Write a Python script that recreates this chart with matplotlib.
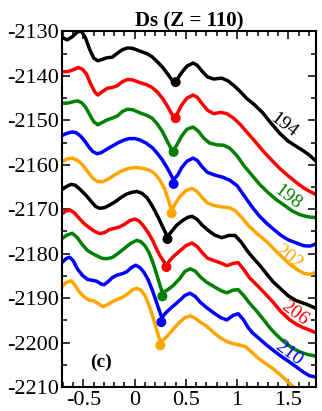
import numpy as np
import matplotlib
matplotlib.use('Agg')
import matplotlib.pyplot as plt
from matplotlib.ticker import MultipleLocator, FuncFormatter

plt.rcParams['font.family'] = ['Liberation Serif', 'DejaVu Serif']
plt.rcParams['axes.unicode_minus'] = False

# Neutron numbers and colours of the ten curves
N_values = [194, 196, 198, 200, 202, 204, 206, 208, 210, 212]
colors = ['black', 'red', 'green', 'blue', 'orange',
          'black', 'red', 'green', 'blue', 'orange']

# Binding energy curves (x = deformation, y = energy)
x_194 = [-0.71, -0.66, -0.61, -0.56, -0.52, -0.48, -0.44, -0.40, -0.36, -0.32, -0.27, -0.22,
         -0.17, -0.12, -0.07, -0.02, 0.05, 0.12, 0.17, 0.22, 0.27, 0.32, 0.36, 0.39, 0.42,
         0.46, 0.51, 0.57, 0.61, 0.66, 0.71, 0.77, 0.85, 0.91, 0.97, 1.03, 1.09, 1.17, 1.25,
         1.33, 1.42, 1.50, 1.58, 1.65, 1.71, 1.78]
e_194 = [-2131.3, -2131.9, -2131.2, -2130.1, -2129.9, -2131.5, -2134.0, -2136.0, -2136.6, -2136.3,
         -2135.9, -2135.8, -2134.9, -2134.1, -2133.7, -2133.8, -2134.4, -2135.0, -2135.7, -2136.8,
         -2138.0, -2139.5, -2140.8, -2141.4, -2140.6, -2139.2, -2137.8, -2137.1, -2137.6, -2139.0,
         -2140.2, -2140.7, -2140.5, -2141.1, -2142.2, -2143.5, -2145.0, -2146.5, -2148.3, -2150.6,
         -2153.0, -2154.7, -2155.9, -2156.9, -2157.9, -2159.4]

x_196 = [-0.71, -0.65, -0.60, -0.55, -0.51, -0.47, -0.43, -0.39, -0.36, -0.32, -0.27, -0.22,
         -0.17, -0.12, -0.07, -0.02, 0.05, 0.12, 0.17, 0.22, 0.27, 0.32, 0.36, 0.39, 0.42,
         0.46, 0.51, 0.57, 0.61, 0.66, 0.71, 0.77, 0.84, 0.90, 0.96, 1.03, 1.09, 1.17, 1.25,
         1.33, 1.42, 1.50, 1.58, 1.65, 1.71, 1.78]
e_196 = [-2139.1, -2139.0, -2138.6, -2138.1, -2138.5, -2139.6, -2141.8, -2143.6, -2144.3, -2143.6,
         -2142.8, -2142.6, -2142.2, -2141.3, -2140.8, -2140.9, -2141.5, -2142.0, -2142.6, -2143.6,
         -2145.0, -2146.8, -2148.5, -2149.5, -2148.3, -2146.5, -2145.0, -2144.3, -2144.8, -2146.3,
         -2147.7, -2148.5, -2148.2, -2148.5, -2149.4, -2150.9, -2152.5, -2154.6, -2156.8, -2158.8,
         -2160.9, -2162.5, -2164.0, -2165.2, -2166.0, -2166.8]

x_198 = [-0.71, -0.65, -0.60, -0.56, -0.52, -0.48, -0.44, -0.40, -0.36, -0.32, -0.27, -0.22,
         -0.17, -0.12, -0.07, -0.02, 0.05, 0.12, 0.17, 0.22, 0.27, 0.32, 0.37, 0.41, 0.46,
         0.51, 0.57, 0.62, 0.67, 0.73, 0.80, 0.87, 0.93, 1.00, 1.07, 1.15, 1.22, 1.30, 1.38,
         1.46, 1.54, 1.61, 1.69, 1.78]
e_198 = [-2146.2, -2146.1, -2145.8, -2145.6, -2146.0, -2147.0, -2148.7, -2150.3, -2151.0, -2150.5,
         -2149.9, -2149.5, -2149.0, -2148.0, -2147.5, -2147.6, -2148.3, -2148.9, -2149.5, -2150.8,
         -2152.5, -2154.8, -2157.0, -2155.6, -2153.5, -2152.0, -2151.5, -2152.4, -2153.9, -2155.1,
         -2155.5, -2155.6, -2156.3, -2158.0, -2160.3, -2162.5, -2164.4, -2166.2, -2167.8, -2169.1,
         -2170.4, -2171.2, -2171.7, -2171.9]

x_200 = [-0.71, -0.66, -0.61, -0.57, -0.53, -0.49, -0.45, -0.41, -0.37, -0.33, -0.28, -0.22,
         -0.16, -0.10, -0.05, 0.0, 0.05, 0.11, 0.175, 0.22, 0.27, 0.32, 0.38, 0.42, 0.46,
         0.51, 0.57, 0.61, 0.66, 0.71, 0.78, 0.86, 0.93, 1.00, 1.07, 1.15, 1.22, 1.29, 1.36,
         1.43, 1.50, 1.58, 1.65, 1.71, 1.75, 1.78]
e_200 = [-2153.4, -2152.9, -2152.6, -2152.8, -2153.5, -2154.6, -2155.9, -2157.0, -2157.5, -2157.3,
         -2156.6, -2155.8, -2155.0, -2154.4, -2154.1, -2154.1, -2154.4, -2155.1, -2156.2, -2157.4,
         -2158.9, -2160.8, -2163.4, -2162.3, -2160.6, -2159.2, -2158.5, -2159.0, -2160.5, -2161.7,
         -2162.3, -2162.8, -2163.5, -2164.7, -2167.0, -2169.6, -2171.6, -2173.2, -2174.6, -2175.9,
         -2176.9, -2177.6, -2178.2, -2178.3, -2178.0, -2177.6]

x_202 = [-0.71, -0.66, -0.61, -0.56, -0.51, -0.46, -0.41, -0.36, -0.31, -0.25, -0.19, -0.13,
         -0.07, 0.0, 0.05, 0.10, 0.15, 0.20, 0.245, 0.29, 0.33, 0.36, 0.40, 0.44, 0.50, 0.56,
         0.61, 0.66, 0.71, 0.78, 0.86, 0.93, 0.98, 1.05, 1.12, 1.20, 1.29, 1.37, 1.45, 1.52,
         1.58, 1.65, 1.71, 1.75, 1.78]
e_202 = [-2159.3, -2158.7, -2158.5, -2159.0, -2160.0, -2161.5, -2163.0, -2163.8, -2163.8, -2163.1,
         -2162.2, -2161.4, -2160.9, -2160.6, -2160.7, -2160.9, -2161.3, -2162.1, -2163.4, -2165.3,
         -2168.0, -2170.3, -2168.6, -2167.2, -2165.8, -2165.3, -2166.0, -2167.4, -2168.6, -2169.2,
         -2169.5, -2169.7, -2170.3, -2172.0, -2173.9, -2175.6, -2177.3, -2179.2, -2181.0, -2182.5,
         -2183.5, -2184.4, -2184.7, -2184.4, -2183.9]

x_204 = [-0.71, -0.66, -0.62, -0.58, -0.53, -0.47, -0.42, -0.38, -0.34, -0.29, -0.24, -0.19,
         -0.13, -0.08, -0.03, 0.02, 0.07, 0.12, 0.17, 0.225, 0.27, 0.32, 0.36, 0.41, 0.47,
         0.52, 0.56, 0.61, 0.66, 0.72, 0.78, 0.85, 0.92, 0.98, 1.04, 1.10, 1.15, 1.22, 1.29,
         1.35, 1.42, 1.50, 1.58, 1.68, 1.78]
e_204 = [-2165.6, -2164.8, -2164.4, -2164.6, -2165.6, -2167.0, -2168.4, -2169.4, -2169.8, -2169.6,
         -2169.0, -2168.3, -2167.3, -2166.6, -2166.2, -2166.0, -2166.4, -2167.4, -2169.2, -2171.6,
         -2173.8, -2176.2, -2175.0, -2173.6, -2172.5, -2171.8, -2171.6, -2172.3, -2173.6, -2174.8,
         -2175.8, -2176.4, -2175.9, -2175.9, -2177.4, -2179.4, -2180.8, -2182.6, -2184.6, -2186.3,
         -2187.8, -2189.5, -2190.6, -2191.4, -2192.4]

x_206 = [-0.71, -0.67, -0.63, -0.59, -0.54, -0.49, -0.44, -0.39, -0.34, -0.29, -0.25, -0.20,
         -0.15, -0.10, -0.05, 0.0, 0.04, 0.08, 0.13, 0.175, 0.21, 0.245, 0.28, 0.31, 0.34,
         0.38, 0.44, 0.50, 0.56, 0.61, 0.66, 0.71, 0.78, 0.84, 0.90, 0.96, 1.01, 1.06, 1.12,
         1.19, 1.27, 1.35, 1.43, 1.515, 1.58, 1.64, 1.71, 1.78]
e_206 = [-2171.0, -2170.4, -2170.2, -2170.8, -2172.1, -2173.3, -2174.2, -2175.0, -2175.5, -2175.2,
         -2174.6, -2174.3, -2174.0, -2173.4, -2172.6, -2172.2, -2172.6, -2173.6, -2175.2, -2177.0,
         -2178.8, -2180.4, -2181.6, -2182.6, -2181.6, -2180.6, -2179.4, -2178.2, -2177.6, -2178.4,
         -2179.8, -2181.0, -2181.6, -2182.1, -2182.7, -2182.2, -2182.0, -2183.4, -2185.4, -2187.0,
         -2188.9, -2190.9, -2193.1, -2194.9, -2195.9, -2196.6, -2197.2, -2197.9]

x_208 = [-0.71, -0.66, -0.61, -0.56, -0.51, -0.46, -0.41, -0.36, -0.31, -0.26, -0.215, -0.16,
         -0.10, -0.04, 0.02, 0.06, 0.10, 0.14, 0.175, 0.21, 0.24, 0.27, 0.31, 0.37, 0.44, 0.49,
         0.54, 0.59, 0.64, 0.70, 0.78, 0.85, 0.90, 0.96, 1.01, 1.06, 1.12, 1.19, 1.26, 1.32,
         1.39, 1.46, 1.53, 1.61, 1.69, 1.78]
e_208 = [-2176.6, -2175.8, -2175.4, -2176.4, -2178.0, -2179.3, -2180.0, -2180.6, -2181.1, -2181.1,
         -2180.8, -2179.9, -2178.8, -2177.7, -2177.0, -2177.3, -2178.2, -2179.8, -2181.8, -2184.3,
         -2186.6, -2188.8, -2188.3, -2187.3, -2185.6, -2184.0, -2183.4, -2183.9, -2185.2, -2186.4,
         -2187.5, -2188.4, -2188.8, -2188.2, -2188.1, -2189.3, -2191.1, -2192.9, -2194.9, -2196.7,
         -2198.4, -2199.9, -2201.1, -2202.1, -2202.7, -2203.1]

x_210 = [-0.71, -0.67, -0.635, -0.60, -0.56, -0.51, -0.46, -0.41, -0.37, -0.33, -0.30, -0.26,
         -0.22, -0.17, -0.12, -0.08, -0.03, 0.01, 0.05, 0.09, 0.13, 0.165, 0.195, 0.23, 0.265,
         0.30, 0.34, 0.39, 0.44, 0.49, 0.54, 0.59, 0.64, 0.70, 0.77, 0.84, 0.90, 0.96, 1.01,
         1.06, 1.11, 1.15, 1.22, 1.29, 1.35, 1.43, 1.50, 1.58, 1.65, 1.71, 1.78]
e_210 = [-2182.0, -2181.1, -2180.8, -2181.6, -2183.4, -2184.9, -2185.8, -2186.0, -2186.2, -2186.8,
         -2187.0, -2186.3, -2185.4, -2184.8, -2184.5, -2184.1, -2183.1, -2182.6, -2183.1, -2184.2,
         -2185.8, -2187.8, -2189.7, -2192.1, -2194.4, -2193.4, -2192.5, -2191.5, -2190.5, -2189.4,
         -2188.9, -2189.6, -2190.9, -2192.1, -2193.3, -2194.4, -2194.9, -2193.9, -2193.5, -2194.8,
         -2196.7, -2197.8, -2199.2, -2200.6, -2201.7, -2203.1, -2204.2, -2205.5, -2206.7, -2207.5,
         -2207.8]

x_212 = [-0.71, -0.67, -0.62, -0.58, -0.54, -0.49, -0.44, -0.40, -0.36, -0.31, -0.26, -0.21,
         -0.16, -0.11, -0.06, -0.02, 0.02, 0.06, 0.10, 0.14, 0.185, 0.22, 0.25, 0.29, 0.34,
         0.39, 0.44, 0.49, 0.54, 0.59, 0.64, 0.70, 0.77, 0.84, 0.90, 0.97, 1.03, 1.08, 1.14,
         1.20, 1.27, 1.34, 1.41, 1.48, 1.55, 1.61]
e_212 = [-2187.4, -2186.5, -2186.1, -2187.2, -2188.6, -2189.8, -2190.5, -2190.6, -2191.2, -2191.9,
         -2191.4, -2190.7, -2190.2, -2189.7, -2188.9, -2188.1, -2187.8, -2188.2, -2189.4, -2191.6,
         -2194.8, -2197.6, -2199.8, -2199.2, -2198.0, -2196.6, -2195.4, -2194.4, -2194.0, -2194.5,
         -2195.4, -2196.3, -2197.7, -2199.0, -2199.8, -2200.3, -2200.6, -2200.9, -2202.1, -2203.4,
         -2204.6, -2205.7, -2207.0, -2208.5, -2210.0, -2211.2]

# Minima (filled circles)
min_x = [0.40, 0.40, 0.38, 0.38, 0.36, 0.32, 0.31, 0.27, 0.26, 0.25]
min_e = [-2141.4, -2149.5, -2157.1, -2164.3, -2170.9, -2176.7, -2183.0, -2189.6, -2195.4, -2200.6]

# Curve labels
label_text = ['194', '198', '202', '206', '210']
label_color = ['black', 'green', 'orange', 'red', 'blue']
label_x = [1.45, 1.49, 1.50, 1.56, 1.50]
label_y = [-2151.1, -2167.3, -2180.8, -2193.4, -2202.4]

xs = [x_194, x_196, x_198, x_200, x_202, x_204, x_206, x_208, x_210, x_212]
es = [e_194, e_196, e_198, e_200, e_202, e_204, e_206, e_208, e_210, e_212]

fig = plt.figure(figsize=(3.22, 4.11), dpi=100)
ax = fig.add_axes([0.1925, 0.0584, 0.7888, 0.865])

for x, e, c in zip(xs, es, colors):
    ax.plot(x, e, color=c, lw=2.5, solid_joinstyle='round', solid_capstyle='round')
ax.scatter(min_x, min_e, c=colors, s=38, zorder=3)

for t, c, lx, ly in zip(label_text, label_color, label_x, label_y):
    ax.text(lx, ly, t, color=c, fontsize=14, rotation=-37,
            ha='center', va='center')

ax.text(-0.33, -2204.4, '(c)', fontsize=14, fontweight='bold',
        ha='center', va='center')

ax.set_xlim(-0.71, 1.77)
ax.set_ylim(-2210, -2130)
ax.xaxis.set_major_locator(MultipleLocator(0.5))
ax.xaxis.set_minor_locator(MultipleLocator(0.1))
ax.yaxis.set_major_locator(MultipleLocator(10))
ax.yaxis.set_minor_locator(MultipleLocator(5))
ax.xaxis.set_major_formatter(FuncFormatter(lambda v, p: ('%g' % round(v, 2))))
ax.yaxis.set_major_formatter(FuncFormatter(lambda v, p: '%d' % v))
ax.tick_params(which='both', direction='in', top=True, right=True,
               labelsize=16, width=1.1)
ax.tick_params(which='major', length=6)
ax.tick_params(which='minor', length=3.5)
ax.tick_params(axis='y', pad=2)
ax.tick_params(axis='x', pad=3)
for s in ax.spines.values():
    s.set_linewidth(1.5)

ax.set_title('Ds (Z = 110)', fontsize=15, fontweight='bold', pad=3)

fig.savefig('out.png', dpi=100)
